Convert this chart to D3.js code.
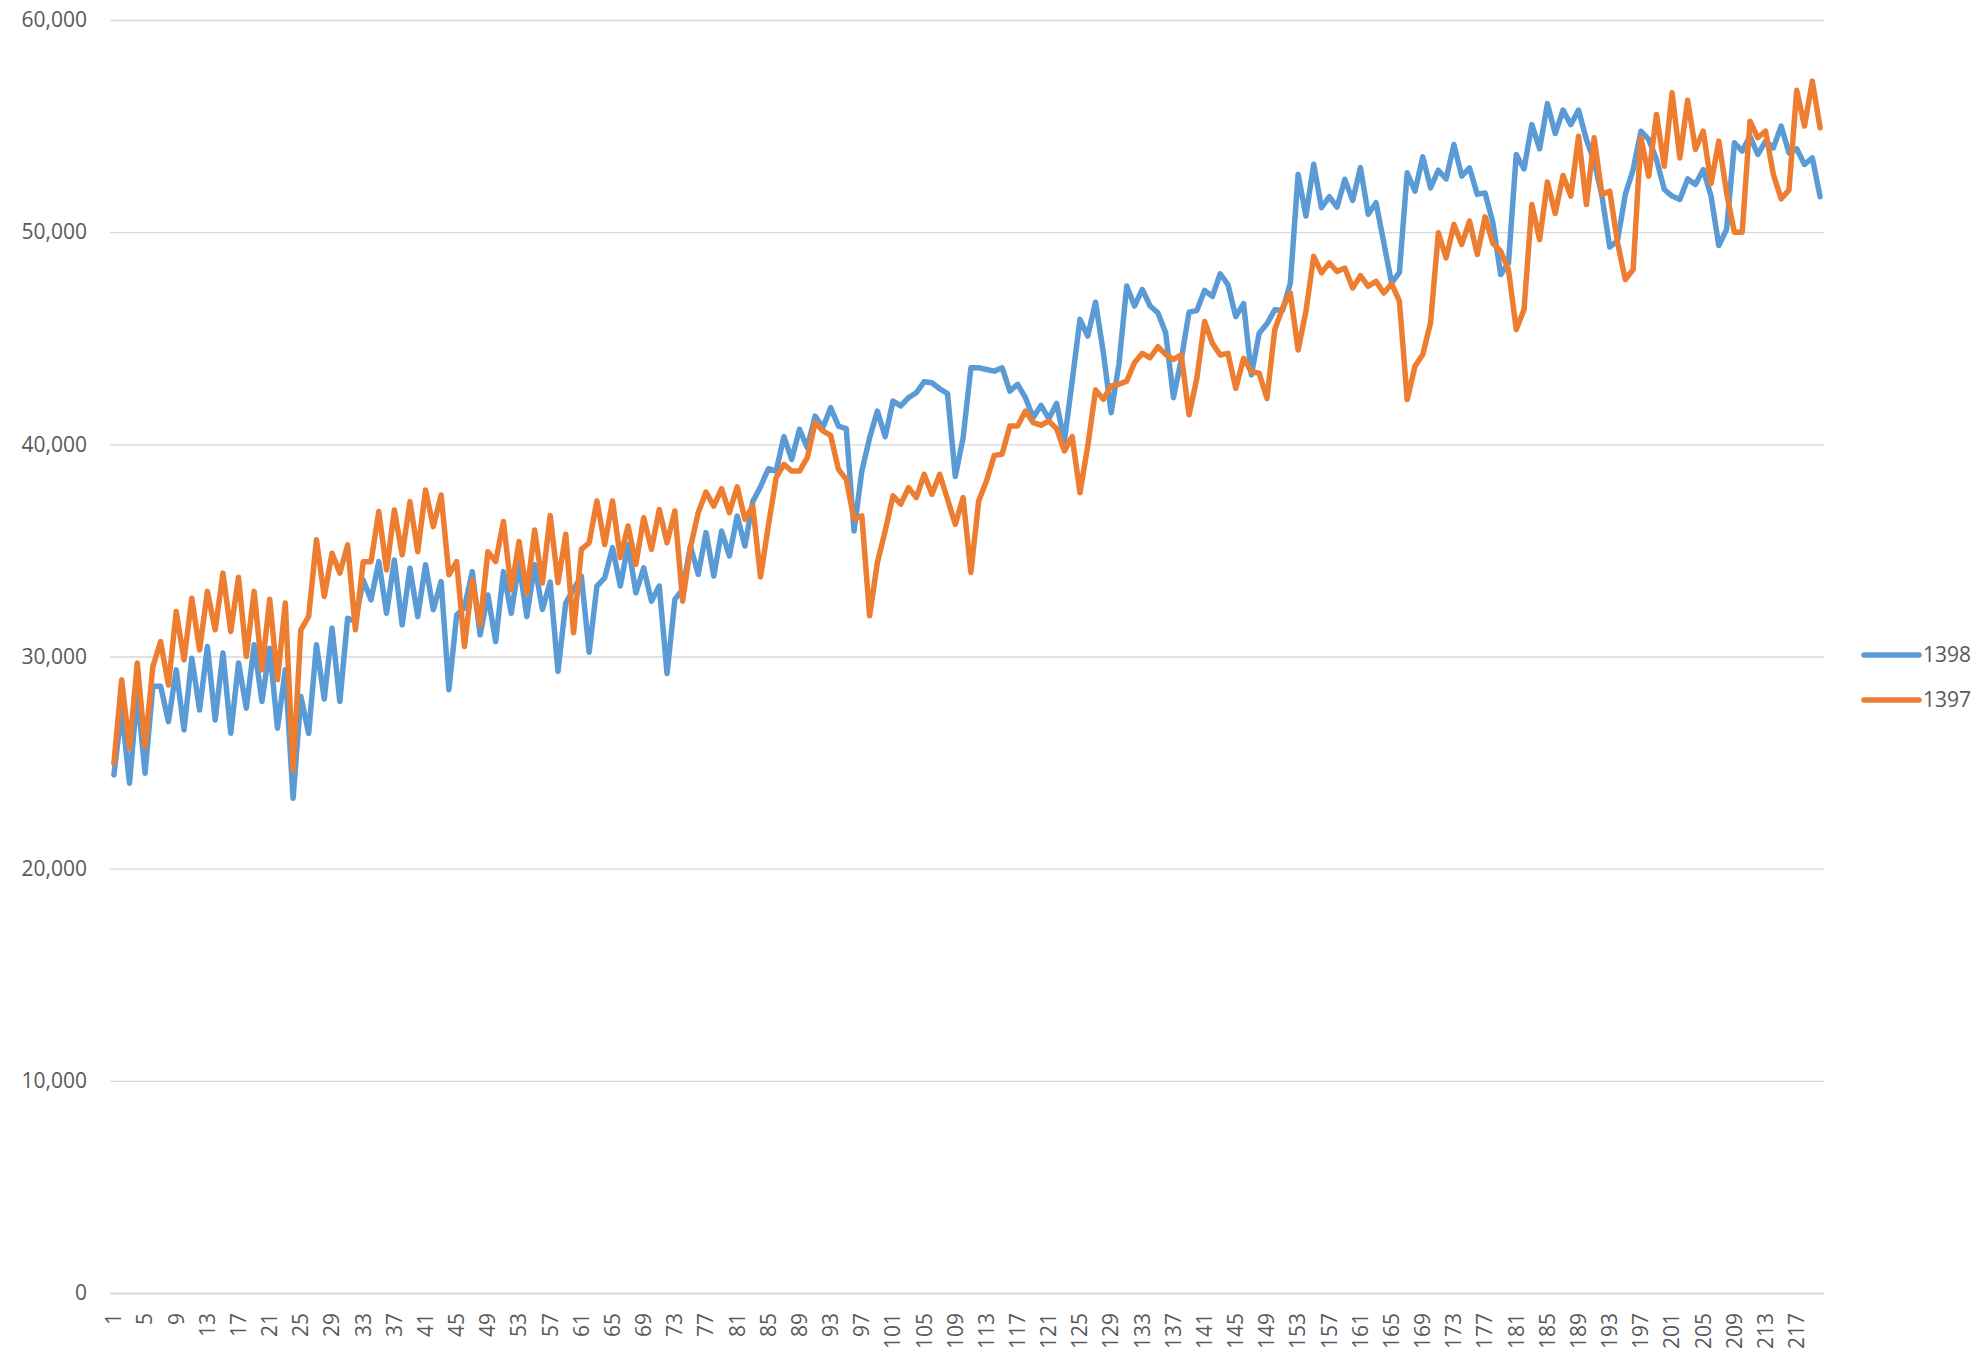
<!DOCTYPE html>
<html>
<head>
<meta charset="utf-8">
<script src="https://cdn.jsdelivr.net/npm/d3@7"></script>
<style>
  html, body { margin: 0; padding: 0; background: #fff; }
  svg { display: block; }
  text { font-family: "Open Sans", "Noto Sans", sans-serif; fill: #595959; }
</style>
</head>
<body>
<svg id="chart" width="1985" height="1354"></svg>
<script>
const seriesNames = ["1398", "1397"];
const categories = d3.range(1, 221);
const yTicks = [0, 10000, 20000, 30000, 40000, 50000, 60000];
const xTickLabels = d3.range(1, 221, 4);

const values1398 = [
24420,27500,24030,28270,24500,28600,28600,26930,29370,26540,
29920,27480,30470,27010,30160,26380,29690,27560,30550,27880,
30390,26620,29370,23320,28110,26380,30550,28000,31330,27880,
31800,31650,33610,32670,34470,32040,34550,31490,34160,31880,
34320,32200,33530,28430,31960,32300,34000,31020,32900,30700,
34000,32040,34400,31880,34320,32220,33510,29300,32530,33160,
33790,30200,33320,33710,35130,33320,35280,33000,34180,32610,
33320,29200,32690,33160,35210,33870,35840,33790,35910,34740,
36620,35210,37300,38000,38850,38740,40360,39290,40710,39840,
41330,40790,41730,40860,40740,35920,38740,40310,41570,40360,
42040,41810,42200,42430,42950,42900,42620,42390,38480,40310,
43610,43610,43530,43450,43610,42510,42830,42200,41260,41840,
41210,41930,40160,42980,45890,45100,46700,44320,41490,43770,
47460,46520,47300,46520,46200,45260,42200,44000,46230,46310,
47260,46970,48040,47520,46020,46630,43270,45240,45680,46340,
46310,47600,52730,50760,53200,51150,51670,51180,52490,51500,
53040,50840,51390,49500,47600,48100,52800,51930,53550,52090,
52920,52510,54130,52640,53030,51780,51850,50440,48000,48550,
53660,52980,55070,53930,56060,54650,55750,55070,55750,54370,
53350,51700,49300,49600,51780,52950,54760,54370,53420,52010,
51700,51540,52510,52250,52950,51700,49370,50130,54210,53820,
54520,53660,54290,53970,55000,53740,53930,53190,53500,51670
];

const values1397 = [
24970,28900,25680,29690,25750,29530,30700,28660,32120,29840,
32750,30310,33070,31260,33930,31180,33740,30000,33070,29370,
32700,28900,32520,24650,31260,31890,35500,32830,34870,33930,
35260,31260,34470,34470,36830,34080,36910,34790,37300,34940,
37850,36120,37610,33850,34470,30470,33610,31490,34940,34470,
36360,33140,35420,32980,35960,33460,36650,33480,35760,31120,
35050,35360,37330,35280,37330,34660,36150,34340,36540,35050,
36930,35360,36860,32610,35130,36780,37750,37090,37910,36780,
38000,36460,37100,33750,36150,38430,39060,38740,38740,39370,
41020,40630,40420,38820,38350,36470,36630,31920,34430,35920,
37570,37180,37960,37490,38590,37650,38590,37410,36230,37490,
33960,37330,38270,39480,39530,40860,40860,41570,41020,40900,
41100,40740,39690,40360,37720,39920,42560,42120,42750,42830,
42980,43850,44290,44080,44600,44240,44000,44220,41390,43110,
45790,44760,44210,44290,42640,44050,43420,43350,42160,45400,
46420,47130,44450,46260,48860,48080,48550,48150,48310,47370,
47950,47450,47680,47130,47570,46750,42110,43680,44230,45730,
49970,48790,50360,49420,50520,48950,50720,49470,49100,48240,
45410,46360,51300,49650,52360,50880,52670,51700,54520,51300,
54450,51780,51930,49500,47770,48240,54450,52640,55550,53110,
56570,53500,56220,53900,54760,52290,54290,51850,50000,50000,
55230,54450,54760,52720,51570,51980,56690,55000,57120,54920
];

const seriesColors = ["#5B9BD5", "#ED7D31"];
const seriesValues = [values1398, values1397];

const svg = d3.select("#chart");
const mLeft = 110, mRight = 1824, mTop = 20, mBottom = 1293;

const x = d3.scaleBand().domain(categories).range([mLeft, mRight]).padding(0);
const y = d3.scaleLinear().domain([0, 60000]).range([mBottom, mTop]);
const cx = c => x(c) + x.bandwidth() / 2;

// Gridlines
const grid = svg.append("g")
  .attr("transform", `translate(${mLeft},0)`)
  .call(d3.axisLeft(y).tickValues(yTicks).tickSize(-(mRight - mLeft)).tickFormat(""));
grid.select(".domain").remove();
grid.selectAll("line").attr("stroke", "#D9D9D9").attr("stroke-width", 1.3);

// Y labels
const yAxis = svg.append("g")
  .attr("transform", `translate(${mLeft},0)`)
  .call(d3.axisLeft(y).tickValues(yTicks).tickSize(0).tickPadding(23).tickFormat(d3.format(",")));
yAxis.select(".domain").remove();
yAxis.selectAll("text")
  .attr("font-size", "21px")
  .attr("fill", "#595959")
  .attr("font-family", "'Open Sans', sans-serif");

// X axis
const xAxis = svg.append("g")
  .attr("transform", `translate(0,${mBottom})`)
  .call(d3.axisBottom(x).tickValues(xTickLabels).tickSize(0).tickPadding(0));
xAxis.select(".domain").attr("stroke", "#D9D9D9").attr("stroke-width", 1.3);
xAxis.selectAll("text")
  .attr("font-size", "21px")
  .attr("fill", "#595959")
  .attr("font-family", "'Open Sans', sans-serif")
  .attr("transform", "rotate(-90)")
  .attr("text-anchor", "end")
  .attr("dy", "0.35em")
  .attr("x", -20)
  .attr("y", 0);

// Lines
const line = d3.line()
  .x((d, i) => cx(categories[i]))
  .y(d => y(d))
  .curve(d3.curveLinear);

seriesValues.forEach((vals, k) => {
  svg.append("path")
    .datum(vals)
    .attr("fill", "none")
    .attr("stroke", seriesColors[k])
    .attr("stroke-width", 5.5)
    .attr("stroke-linejoin", "round")
    .attr("stroke-linecap", "round")
    .attr("d", line);
});

// Legend
const legend = svg.append("g");
const legendY = [655, 700];
seriesNames.forEach((name, k) => {
  legend.append("line")
    .attr("x1", 1864).attr("x2", 1919)
    .attr("y1", legendY[k]).attr("y2", legendY[k])
    .attr("stroke", seriesColors[k])
    .attr("stroke-width", 5.5)
    .attr("stroke-linecap", "round");
  legend.append("text")
    .attr("x", 1923).attr("y", legendY[k])
    .attr("dy", "0.35em")
    .attr("font-size", "21px")
    .text(name);
});
</script>
</body>
</html>
